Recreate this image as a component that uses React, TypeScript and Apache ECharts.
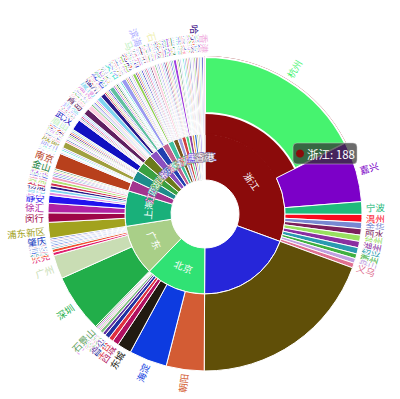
import React, { useEffect, useRef } from "react";
import * as echarts from "echarts";

type Item = [string, number];

// ---- data (outer ring: cities, grouped by inner ring: provinces) ----
const zhejiang: Item[] = [["杭州", 108], ["嘉兴", 38], ["宁波", 8], ["温州", 5], ["金华", 4], ["丽水", 4], ["台州", 4], ["湖州", 4], ["绍兴", 4], ["衢州", 3], ["舟山", 3], ["义乌", 3]];
const unknown: Item[] = [["", 120]];
const beijing: Item[] = [["朝阳", 24], ["海淀", 24], ["东城", 9], ["西城", 4], ["丰台", 3], ["昌平", 3], ["通州", 2], ["大兴", 2], ["顺义", 1], ["房山", 1], ["门头沟", 1], ["石景山", 1]];
const guangdong: Item[] = [["深圳", 37], ["广州", 15], ["东莞", 2], ["佛山", 2], ["珠海", 1], ["中山", 1], ["惠州", 1], ["汕头", 1], ["江门", 1], ["湛江", 1], ["肇庆", 1]];
const shanghai: Item[] = [["浦东新区", 10], ["闵行", 6], ["徐汇", 6], ["静安", 5], ["长宁", 2], ["普陀", 2], ["杨浦", 2], ["虹口", 2], ["黄浦", 2], ["宝山", 2], ["嘉定", 1], ["松江", 1], ["青浦", 1], ["奉贤", 1], ["金山", 1]];
const jiangsu: Item[] = [["南京", 10], ["苏州", 1], ["无锡", 1], ["常州", 1], ["徐州", 1]];
const sichuan: Item[] = [["成都", 4], ["绵阳", 1], ["德阳", 1], ["宜宾", 1], ["南充", 1], ["泸州", 1], ["乐山", 1], ["自贡", 1], ["达州", 1], ["眉山", 1]];
const hubei: Item[] = [["武汉", 7], ["宜昌", 1], ["襄阳", 1], ["荆州", 1], ["黄石", 1], ["十堰", 1]];
const shandong: Item[] = [["青岛", 4], ["济南", 3], ["烟台", 1], ["潍坊", 1], ["临沂", 1], ["威海", 1], ["淄博", 1]];
const fujian: Item[] = [["厦门", 3], ["福州", 3], ["泉州", 1], ["漳州", 1], ["莆田", 1], ["龙岩", 1]];
const henan: Item[] = [["郑州", 3], ["洛阳", 1], ["开封", 1], ["新乡", 1], ["南阳", 1], ["许昌", 1], ["安阳", 1]];
const hunan: Item[] = [["长沙", 3], ["株洲", 1], ["湘潭", 1], ["岳阳", 1], ["衡阳", 1], ["常德", 1]];
const anhui: Item[] = [["合肥", 2], ["芜湖", 1], ["蚌埠", 1], ["安庆", 1], ["马鞍山", 1], ["阜阳", 1]];
const tianjin: Item[] = [["南开", 1], ["和平", 1], ["河西", 1], ["滨海新区", 1], ["河东", 1], ["红桥", 1]];
const jiangxi: Item[] = [["南昌", 2], ["九江", 1], ["赣州", 1], ["上饶", 1]];
const hebei: Item[] = [["石家庄", 1], ["保定", 1], ["唐山", 1], ["廊坊", 1], ["邯郸", 1]];
const liaoning: Item[] = [["沈阳", 1], ["大连", 1], ["鞍山", 1], ["锦州", 1]];
const shaanxi: Item[] = [["西安", 2], ["咸阳", 1], ["宝鸡", 1]];
const chongqing: Item[] = [["渝中", 1], ["江北", 1], ["渝北", 1]];
const yunnan: Item[] = [["昆明", 1], ["大理", 1], ["曲靖", 1]];
const guangxi: Item[] = [["南宁", 1], ["桂林", 1]];
const shanxi: Item[] = [["太原", 1], ["大同", 1]];
const heilongjiang: Item[] = [["哈尔滨", 1], ["大庆", 1]];
const jilin: Item[] = [["长春", 1]];
const guizhou: Item[] = [["贵阳", 1]];
const hainan: Item[] = [["海口", 1]];
const hongkong: Item[] = [["香港", 1]];

const provinces: [string, Item[]][] = [
  ["浙江", zhejiang], ["", unknown], ["北京", beijing], ["广东", guangdong], ["上海", shanghai],
  ["江苏", jiangsu], ["四川", sichuan], ["湖北", hubei], ["山东", shandong], ["福建", fujian],
  ["河南", henan], ["湖南", hunan], ["安徽", anhui], ["天津", tianjin], ["江西", jiangxi],
  ["河北", hebei], ["辽宁", liaoning], ["陕西", shaanxi], ["重庆", chongqing], ["云南", yunnan],
  ["广西", guangxi], ["山西", shanxi], ["黑龙江", heilongjiang], ["吉林", jilin], ["贵州", guizhou],
  ["海南", hainan], ["香港", hongkong],
];

// ---- styles ----
const innerColors: Record<string, string> = {
  "浙江": "#8b0b0b", "": "#2626d9", "北京": "#30e274", "广东": "#a9cf88", "上海": "#19b07a", "江苏": "#a3348f",
};
const innerPalette = ["#1e8c8c", "#3aa040", "#6b7a1a", "#8a50c0", "#2040b0", "#c06090", "#40c0a0", "#7a5a20", "#a0a0e0", "#d04040", "#50d080", "#9040a0", "#e0a040", "#3070d0", "#a0c040", "#b8b8b8", "#6040e0", "#e070c0", "#40a0e0", "#b0d0a0", "#806080"];
const cityColors: Record<string, string> = {
  "杭州": "#46f36f", "嘉兴": "#7c00c8", "宁波": "#1fba7c", "温州": "#fb0a1e", "金华": "#7888d2", "丽水": "#7b1f5c",
  "台州": "#98e060", "湖州": "#8a2ea0", "绍兴": "#2a9ab0", "衢州": "#40b040", "舟山": "#c0a0e0", "义乌": "#e07090",
  "": "#604f08",
  "朝阳": "#d35c34", "海淀": "#0d3be0", "东城": "#211a10", "西城": "#b01060", "丰台": "#e03040", "昌平": "#2030a0",
  "通州": "#6030a0", "大兴": "#80c080", "顺义": "#f0a0d0", "房山": "#a0d0a0", "门头沟": "#e080f0", "石景山": "#60a060",
  "深圳": "#22ae4a", "广州": "#c9ddb4", "东莞": "#e02070", "佛山": "#f05030", "珠海": "#40a0a0", "中山": "#f0a0c0",
  "惠州": "#3060e0", "汕头": "#a0c0f0", "江门": "#6080d0", "湛江": "#e0b0d0", "肇庆": "#2040c0",
  "浦东新区": "#a2a21e", "闵行": "#9e0648", "徐汇": "#b123a3", "静安": "#2212ee",
  "南京": "#b8401c",
};
const thinPalette = ["#e28de0", "#7fd4f0", "#2a1a8a", "#d03050", "#b0e070", "#f0a0c0", "#4050e0", "#60c0a0", "#a040e0", "#f0d080", "#208040", "#c0c0f0", "#e8fff0", "#40e0d0", "#9a9af0", "#a0a040", "#ff80a0", "#5070c0", "#dff8e8", "#d0a0f0", "#90d050", "#300080", "#f06040", "#80b0f0", "#c0f0c0", "#1010c0", "#f0b0e0", "#70a0a0", "#e04080", "#b0b0ff", "#a0e0f0", "#602060", "#ffd0e0", "#50b050", "#d0d0ff", "#8080e0", "#f0f0b0"];

// the hovered province is drawn bulging out under its largest city
const HOVER_PROVINCE = "浙江";
const HOVER_CITY = "杭州";

function buildData() {
  let k = 0;
  let s = 0;
  return provinces.map(([pname, cities]) => {
    const pc = innerColors[pname] ?? innerPalette[s++ % innerPalette.length];
    return {
      name: pname,
      itemStyle: { color: pc },
      label: { textBorderColor: pc, textBorderWidth: 1 },
      children: cities.map(([c, v]) => {
        const col = cityColors[c] ?? thinPalette[k++ % thinPalette.length];
        if (pname === HOVER_PROVINCE && c === HOVER_CITY) {
          // province-coloured band under this city (no own label)
          return {
            name: "",
            itemStyle: { color: pc, borderColor: pc, borderWidth: 2 },
            label: { show: false },
            children: [
              { name: c, value: v, itemStyle: { color: col, borderColor: "#fff", borderWidth: 2 }, label: { color: col } },
            ],
          };
        }
        return { name: c, value: v, itemStyle: { color: col }, label: { color: col } };
      }),
    };
  });
}

const FONT = "'Noto Sans CJK SC', sans-serif";
const outerLabel = {
  position: "outside",
  rotate: "radial",
  distance: 4,
  fontSize: 9.5,
  textBorderColor: "#fff",
  textBorderWidth: 2,
};

export default function App() {
  const ref = useRef<HTMLDivElement>(null);
  useEffect(() => {
    if (!ref.current) return;
    const chart = echarts.init(ref.current, null, { renderer: "svg" });
    chart.setOption({
      animation: false,
      textStyle: { fontFamily: FONT },
      series: [
        {
          type: "sunburst",
          center: [205, 214],
          radius: [34, 157],
          sort: null,
          nodeClick: false,
          itemStyle: { borderColor: "#fff", borderWidth: 1 },
          levels: [
            {},
            { r0: 34, r: 80, label: { rotate: "tangential", color: "#fff", fontSize: 9.5 } },
            { r0: 80, r: 157, label: outerLabel },
            { r0: 101, r: 157, label: outerLabel },
          ],
          data: buildData(),
        },
      ],
      graphic: [
        { type: "rect", z: 100, zlevel: 1, shape: { x: 293, y: 143, width: 64, height: 21, r: 4 }, style: { fill: "rgba(50,50,50,0.72)", stroke: "rgba(200,200,200,0.5)", lineWidth: 1 } },
        { type: "circle", z: 101, zlevel: 1, shape: { cx: 300, cy: 153.5, r: 4 }, style: { fill: "#8b0b0b" } },
        { type: "text", z: 102, zlevel: 1, x: 307, y: 153.5, style: { text: "浙江: 188", fill: "#fff", fontSize: 11.5, verticalAlign: "middle", fontFamily: FONT } },
      ],
    });
    return () => chart.dispose();
  }, []);
  return <div ref={ref} style={{ position: "absolute", left: 0, top: 0, width: 400, height: 399 }} />;
}
